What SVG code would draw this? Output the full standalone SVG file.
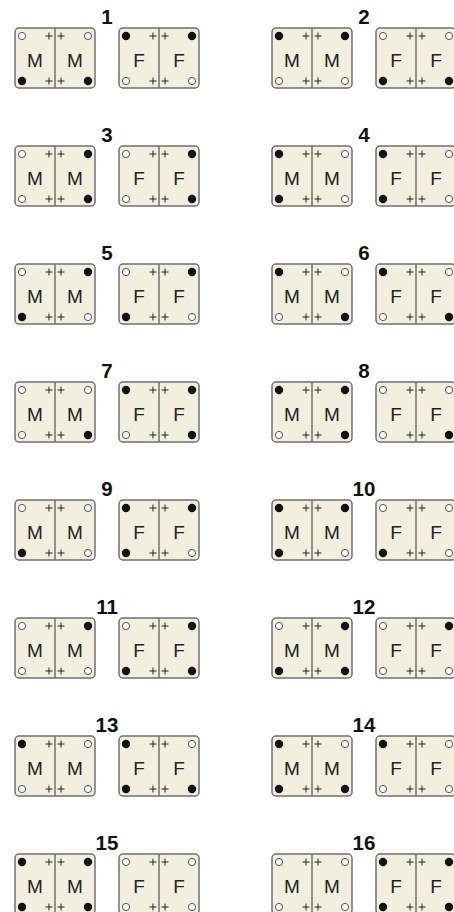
<svg xmlns="http://www.w3.org/2000/svg" xmlns:xlink="http://www.w3.org/1999/xlink" width="454" height="912" viewBox="0 0 454 912">
<style>
.box{fill:#f2efdf;stroke:#707070;stroke-width:1.5}
.div{stroke:#333;stroke-width:1}
.plus{stroke:#222;stroke-width:1;fill:none}
.let{font-family:"Liberation Sans",Arial,sans-serif;font-size:19px;fill:#222;text-anchor:middle}
.num{font-family:"Liberation Sans",Arial,sans-serif;font-size:20.5px;font-weight:bold;fill:#111;text-anchor:middle}
.o{fill:#fff;stroke:#555;stroke-width:1}
.f{fill:#111}
</style>
<defs>
<g id="base">
<rect class="box" x="0" y="0" width="80" height="60" rx="4"/>
<line class="div" x1="40" y1="0.5" x2="40" y2="59.5"/>
<path class="plus" d="M30.5 8h7M34 4.5v7M42.5 8h7M46 4.5v7M30.5 53h7M34 49.5v7M42.5 53h7M46 49.5v7"/>
</g>
<g id="mbox"><use xlink:href="#base"/><text class="let" x="20" y="39">M</text><text class="let" x="60" y="39">M</text></g>
<g id="fbox"><use xlink:href="#base"/><text class="let" x="20" y="39">F</text><text class="let" x="60" y="39">F</text></g>
<circle id="o" class="o" r="3.6"/>
<circle id="f" class="f" r="4.2"/>
</defs>
<rect width="454" height="912" fill="#fff"/>

<!-- Row 1 -->
<g id="item1" transform="translate(0,28)">
<text class="num" x="107" y="-4">1</text>
<g transform="translate(15,0)"><use xlink:href="#mbox"/><use xlink:href="#o" x="7" y="8"/><use xlink:href="#o" x="73" y="8"/><use xlink:href="#f" x="7" y="53"/><use xlink:href="#f" x="73" y="53"/></g>
<g transform="translate(119,0)"><use xlink:href="#fbox"/><use xlink:href="#f" x="7" y="8"/><use xlink:href="#f" x="73" y="8"/><use xlink:href="#o" x="7" y="53"/><use xlink:href="#o" x="73" y="53"/></g>
</g>
<g id="item2" transform="translate(257,28)">
<text class="num" x="107" y="-4">2</text>
<g transform="translate(15,0)"><use xlink:href="#mbox"/><use xlink:href="#f" x="7" y="8"/><use xlink:href="#f" x="73" y="8"/><use xlink:href="#o" x="7" y="53"/><use xlink:href="#o" x="73" y="53"/></g>
<g transform="translate(119,0)"><use xlink:href="#fbox"/><use xlink:href="#o" x="7" y="8"/><use xlink:href="#o" x="73" y="8"/><use xlink:href="#f" x="7" y="53"/><use xlink:href="#f" x="73" y="53"/></g>
</g>

<!-- Row 2 -->
<g id="item3" transform="translate(0,146)">
<text class="num" x="107" y="-4">3</text>
<g transform="translate(15,0)"><use xlink:href="#mbox"/><use xlink:href="#o" x="7" y="8"/><use xlink:href="#f" x="73" y="8"/><use xlink:href="#o" x="7" y="53"/><use xlink:href="#f" x="73" y="53"/></g>
<g transform="translate(119,0)"><use xlink:href="#fbox"/><use xlink:href="#o" x="7" y="8"/><use xlink:href="#f" x="73" y="8"/><use xlink:href="#o" x="7" y="53"/><use xlink:href="#f" x="73" y="53"/></g>
</g>
<g id="item4" transform="translate(257,146)">
<text class="num" x="107" y="-4">4</text>
<g transform="translate(15,0)"><use xlink:href="#mbox"/><use xlink:href="#f" x="7" y="8"/><use xlink:href="#o" x="73" y="8"/><use xlink:href="#f" x="7" y="53"/><use xlink:href="#o" x="73" y="53"/></g>
<g transform="translate(119,0)"><use xlink:href="#fbox"/><use xlink:href="#f" x="7" y="8"/><use xlink:href="#o" x="73" y="8"/><use xlink:href="#f" x="7" y="53"/><use xlink:href="#o" x="73" y="53"/></g>
</g>

<!-- Row 3 -->
<g id="item5" transform="translate(0,264)">
<text class="num" x="107" y="-4">5</text>
<g transform="translate(15,0)"><use xlink:href="#mbox"/><use xlink:href="#o" x="7" y="8"/><use xlink:href="#f" x="73" y="8"/><use xlink:href="#f" x="7" y="53"/><use xlink:href="#o" x="73" y="53"/></g>
<g transform="translate(119,0)"><use xlink:href="#fbox"/><use xlink:href="#o" x="7" y="8"/><use xlink:href="#f" x="73" y="8"/><use xlink:href="#f" x="7" y="53"/><use xlink:href="#o" x="73" y="53"/></g>
</g>
<g id="item6" transform="translate(257,264)">
<text class="num" x="107" y="-4">6</text>
<g transform="translate(15,0)"><use xlink:href="#mbox"/><use xlink:href="#f" x="7" y="8"/><use xlink:href="#o" x="73" y="8"/><use xlink:href="#o" x="7" y="53"/><use xlink:href="#f" x="73" y="53"/></g>
<g transform="translate(119,0)"><use xlink:href="#fbox"/><use xlink:href="#f" x="7" y="8"/><use xlink:href="#o" x="73" y="8"/><use xlink:href="#o" x="7" y="53"/><use xlink:href="#f" x="73" y="53"/></g>
</g>

<!-- Row 4 -->
<g id="item7" transform="translate(0,382)">
<text class="num" x="107" y="-4">7</text>
<g transform="translate(15,0)"><use xlink:href="#mbox"/><use xlink:href="#o" x="7" y="8"/><use xlink:href="#o" x="73" y="8"/><use xlink:href="#o" x="7" y="53"/><use xlink:href="#f" x="73" y="53"/></g>
<g transform="translate(119,0)"><use xlink:href="#fbox"/><use xlink:href="#f" x="7" y="8"/><use xlink:href="#f" x="73" y="8"/><use xlink:href="#o" x="7" y="53"/><use xlink:href="#f" x="73" y="53"/></g>
</g>
<g id="item8" transform="translate(257,382)">
<text class="num" x="107" y="-4">8</text>
<g transform="translate(15,0)"><use xlink:href="#mbox"/><use xlink:href="#f" x="7" y="8"/><use xlink:href="#f" x="73" y="8"/><use xlink:href="#o" x="7" y="53"/><use xlink:href="#f" x="73" y="53"/></g>
<g transform="translate(119,0)"><use xlink:href="#fbox"/><use xlink:href="#o" x="7" y="8"/><use xlink:href="#o" x="73" y="8"/><use xlink:href="#o" x="7" y="53"/><use xlink:href="#f" x="73" y="53"/></g>
</g>

<!-- Row 5 -->
<g id="item9" transform="translate(0,500)">
<text class="num" x="107" y="-4">9</text>
<g transform="translate(15,0)"><use xlink:href="#mbox"/><use xlink:href="#o" x="7" y="8"/><use xlink:href="#o" x="73" y="8"/><use xlink:href="#f" x="7" y="53"/><use xlink:href="#o" x="73" y="53"/></g>
<g transform="translate(119,0)"><use xlink:href="#fbox"/><use xlink:href="#f" x="7" y="8"/><use xlink:href="#f" x="73" y="8"/><use xlink:href="#f" x="7" y="53"/><use xlink:href="#o" x="73" y="53"/></g>
</g>
<g id="item10" transform="translate(257,500)">
<text class="num" x="107" y="-4">10</text>
<g transform="translate(15,0)"><use xlink:href="#mbox"/><use xlink:href="#f" x="7" y="8"/><use xlink:href="#f" x="73" y="8"/><use xlink:href="#f" x="7" y="53"/><use xlink:href="#o" x="73" y="53"/></g>
<g transform="translate(119,0)"><use xlink:href="#fbox"/><use xlink:href="#o" x="7" y="8"/><use xlink:href="#o" x="73" y="8"/><use xlink:href="#f" x="7" y="53"/><use xlink:href="#o" x="73" y="53"/></g>
</g>

<!-- Row 6 -->
<g id="item11" transform="translate(0,618)">
<text class="num" x="107" y="-4">11</text>
<g transform="translate(15,0)"><use xlink:href="#mbox"/><use xlink:href="#o" x="7" y="8"/><use xlink:href="#f" x="73" y="8"/><use xlink:href="#o" x="7" y="53"/><use xlink:href="#o" x="73" y="53"/></g>
<g transform="translate(119,0)"><use xlink:href="#fbox"/><use xlink:href="#o" x="7" y="8"/><use xlink:href="#f" x="73" y="8"/><use xlink:href="#f" x="7" y="53"/><use xlink:href="#f" x="73" y="53"/></g>
</g>
<g id="item12" transform="translate(257,618)">
<text class="num" x="107" y="-4">12</text>
<g transform="translate(15,0)"><use xlink:href="#mbox"/><use xlink:href="#o" x="7" y="8"/><use xlink:href="#f" x="73" y="8"/><use xlink:href="#f" x="7" y="53"/><use xlink:href="#f" x="73" y="53"/></g>
<g transform="translate(119,0)"><use xlink:href="#fbox"/><use xlink:href="#o" x="7" y="8"/><use xlink:href="#f" x="73" y="8"/><use xlink:href="#o" x="7" y="53"/><use xlink:href="#o" x="73" y="53"/></g>
</g>

<!-- Row 7 -->
<g id="item13" transform="translate(0,736)">
<text class="num" x="107" y="-4">13</text>
<g transform="translate(15,0)"><use xlink:href="#mbox"/><use xlink:href="#f" x="7" y="8"/><use xlink:href="#o" x="73" y="8"/><use xlink:href="#o" x="7" y="53"/><use xlink:href="#o" x="73" y="53"/></g>
<g transform="translate(119,0)"><use xlink:href="#fbox"/><use xlink:href="#f" x="7" y="8"/><use xlink:href="#o" x="73" y="8"/><use xlink:href="#f" x="7" y="53"/><use xlink:href="#f" x="73" y="53"/></g>
</g>
<g id="item14" transform="translate(257,736)">
<text class="num" x="107" y="-4">14</text>
<g transform="translate(15,0)"><use xlink:href="#mbox"/><use xlink:href="#f" x="7" y="8"/><use xlink:href="#o" x="73" y="8"/><use xlink:href="#f" x="7" y="53"/><use xlink:href="#f" x="73" y="53"/></g>
<g transform="translate(119,0)"><use xlink:href="#fbox"/><use xlink:href="#f" x="7" y="8"/><use xlink:href="#o" x="73" y="8"/><use xlink:href="#o" x="7" y="53"/><use xlink:href="#o" x="73" y="53"/></g>
</g>

<!-- Row 8 -->
<g id="item15" transform="translate(0,854)">
<text class="num" x="107" y="-4">15</text>
<g transform="translate(15,0)"><use xlink:href="#mbox"/><use xlink:href="#f" x="7" y="8"/><use xlink:href="#f" x="73" y="8"/><use xlink:href="#f" x="7" y="53"/><use xlink:href="#f" x="73" y="53"/></g>
<g transform="translate(119,0)"><use xlink:href="#fbox"/><use xlink:href="#o" x="7" y="8"/><use xlink:href="#o" x="73" y="8"/><use xlink:href="#o" x="7" y="53"/><use xlink:href="#o" x="73" y="53"/></g>
</g>
<g id="item16" transform="translate(257,854)">
<text class="num" x="107" y="-4">16</text>
<g transform="translate(15,0)"><use xlink:href="#mbox"/><use xlink:href="#o" x="7" y="8"/><use xlink:href="#o" x="73" y="8"/><use xlink:href="#o" x="7" y="53"/><use xlink:href="#o" x="73" y="53"/></g>
<g transform="translate(119,0)"><use xlink:href="#fbox"/><use xlink:href="#f" x="7" y="8"/><use xlink:href="#f" x="73" y="8"/><use xlink:href="#f" x="7" y="53"/><use xlink:href="#f" x="73" y="53"/></g>
</g>

<g id="connectors"/>
</svg>
